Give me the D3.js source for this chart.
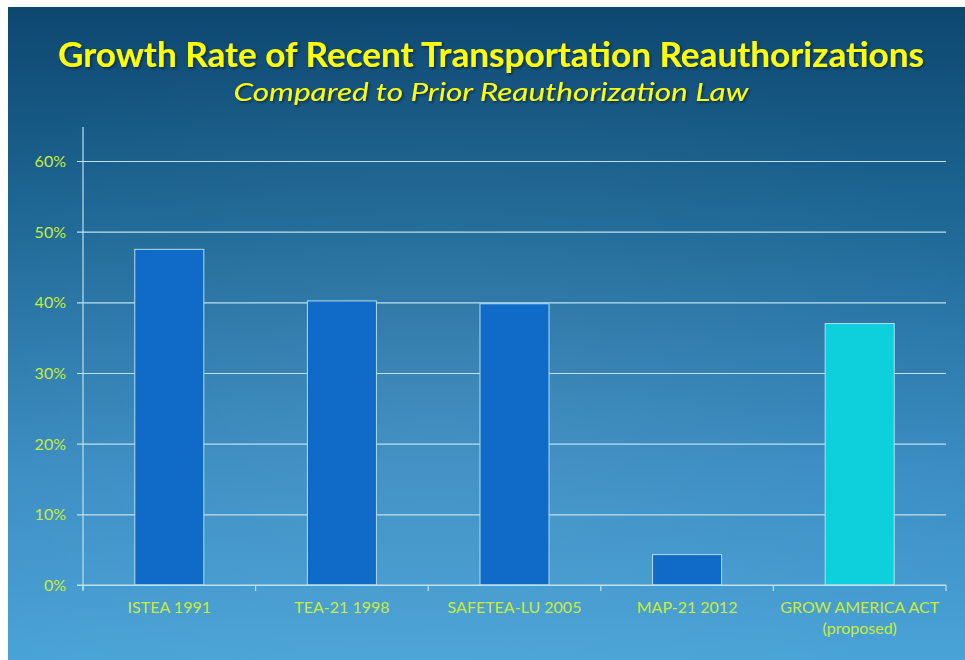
<!DOCTYPE html>
<html>
<head>
<meta charset="utf-8">
<script src="https://cdn.jsdelivr.net/npm/d3@7"></script>
<style>
  html, body { margin: 0; padding: 0; background: #ffffff; }
  svg { display: block; }
</style>
</head>
<body>
<svg id="chart" width="965" height="660"></svg>
<script>
// ---- data ----
const categories = ["ISTEA 1991", "TEA-21 1998", "SAFETEA-LU 2005", "MAP-21 2012", "GROW AMERICA ACT\n(proposed)"];
const growthRates = [0.475, 0.402, 0.398, 0.043, 0.370];
const barColors = ["#0f6bc7", "#0f6bc7", "#0f6bc7", "#0f6bc7", "#0dd0dc"];
const yTicks = [0, 0.1, 0.2, 0.3, 0.4, 0.5, 0.6];
const titleText = "Growth Rate of Recent Transportation Reauthorizations";
const subtitleText = "Compared to Prior Reauthorization  Law";

const svg = d3.select("#chart");
const W = 965, H = 660;

// background gradient
const defs = svg.append("defs");
const lg = defs.append("linearGradient").attr("id", "bg")
  .attr("x1", 0).attr("y1", 0).attr("x2", 0).attr("y2", 1);
lg.append("stop").attr("offset", "0%").attr("stop-color", "#0d4770");
lg.append("stop").attr("offset", "35%").attr("stop-color", "#1f6a98");
lg.append("stop").attr("offset", "70%").attr("stop-color", "#3a8cc2");
lg.append("stop").attr("offset", "100%").attr("stop-color", "#4aa3d6");
const rg = defs.append("radialGradient").attr("id", "glow")
  .attr("cx", 0.45).attr("cy", 0.6).attr("r", 0.6);
rg.append("stop").attr("offset", "0%").attr("stop-color", "#ffffff").attr("stop-opacity", 0.06);
rg.append("stop").attr("offset", "100%").attr("stop-color", "#ffffff").attr("stop-opacity", 0);
const sh = defs.append("filter").attr("id", "shadow").attr("x", -0.05).attr("y", -0.2).attr("width", 1.1).attr("height", 1.5);
sh.append("feDropShadow").attr("dx", 1.5).attr("dy", 1.5).attr("stdDeviation", 1.2)
  .attr("flood-color", "#001a33").attr("flood-opacity", 0.7);

svg.append("rect").attr("x", 8).attr("y", 7).attr("width", W - 8).attr("height", H - 7).attr("fill", "url(#bg)");
svg.append("rect").attr("x", 8).attr("y", 7).attr("width", W - 8).attr("height", H - 7).attr("fill", "url(#glow)");

// titles
svg.append("text")
  .attr("x", 491).attr("y", 67)
  .attr("text-anchor", "middle")
  .attr("font-family", "Lato, 'Open Sans', sans-serif")
  .attr("font-weight", "bold")
  .attr("font-size", 35)
  .attr("fill", "#ffff00")
  .attr("textLength", 866).attr("lengthAdjust", "spacingAndGlyphs")
  .attr("filter", "url(#shadow)")
  .text(titleText);
svg.append("text")
  .attr("x", 491).attr("y", 101)
  .attr("text-anchor", "middle")
  .attr("font-family", "Lato, 'Open Sans', sans-serif")
  .attr("font-style", "italic")
  .attr("font-size", 25)
  .attr("fill", "#ffff00")
  .attr("textLength", 515).attr("lengthAdjust", "spacingAndGlyphs")
  .attr("filter", "url(#shadow)")
  .text(subtitleText);

// scales
const x = d3.scaleBand().domain(categories).range([83, 946]).paddingInner(0).paddingOuter(0);
const y = d3.scaleLinear().domain([0, 0.6]).range([585, 161]);

const lineColor = "#bfe0ee";
const labelColor = "#c9ec3a";
const fontFam = "Lato, 'Open Sans', sans-serif";

// gridlines + y axis
const yAxis = d3.axisLeft(y).tickValues(yTicks).tickFormat(d3.format(".0%"))
  .tickSize(-(946 - 83)).tickPadding(17);
const gy = svg.append("g").attr("transform", "translate(83,0)").call(yAxis);
gy.select(".domain").remove();
gy.selectAll(".tick line").attr("stroke", lineColor).attr("stroke-width", 1.2).attr("x1", -6);
gy.selectAll(".tick text")
  .attr("fill", labelColor).attr("font-family", fontFam)
  .attr("font-size", 16).attr("dy", "0.35em");
// vertical axis line
svg.append("line").attr("x1", 83).attr("x2", 83).attr("y1", 127).attr("y2", 590)
  .attr("stroke", lineColor).attr("stroke-width", 1.2);

// bars
const bw = x.bandwidth() * 0.4;
svg.append("g").selectAll("rect").data(growthRates).join("rect")
  .attr("x", (d, i) => x(categories[i]) + (x.bandwidth() - bw) / 2)
  .attr("y", d => y(d))
  .attr("width", bw)
  .attr("height", d => y(0) - y(d))
  .attr("fill", (d, i) => barColors[i])
  .attr("stroke", "#b5ddef").attr("stroke-width", 1);

// x axis
const xAxis = d3.axisBottom(x).tickSize(0).tickFormat("");
const gx = svg.append("g").attr("transform", `translate(0,${y(0)})`).call(xAxis);
gx.select(".domain").attr("stroke", lineColor).attr("stroke-width", 1.2).attr("d", "M77,0H946");
gx.selectAll(".tick").remove();
// category boundary ticks
const bounds = categories.map(c => x(c)).concat([x(categories[categories.length - 1]) + x.bandwidth()]);
svg.append("g").selectAll("line").data(bounds).join("line")
  .attr("x1", d => d).attr("x2", d => d)
  .attr("y1", y(0)).attr("y2", y(0) + 6)
  .attr("stroke", lineColor).attr("stroke-width", 1.2);
// category labels
const lab = svg.append("g").selectAll("text").data(categories).join("text")
  .attr("x", c => x(c) + x.bandwidth() / 2)
  .attr("y", 613)
  .attr("text-anchor", "middle")
  .attr("font-family", fontFam)
  .attr("font-size", 16)
  .attr("fill", labelColor);
lab.each(function (c) {
  const parts = c.split("\n");
  const t = d3.select(this);
  parts.forEach((p, k) => {
    t.append("tspan").attr("x", x(c) + x.bandwidth() / 2).attr("dy", k === 0 ? 0 : 21).text(p);
  });
});
</script>
</body>
</html>
